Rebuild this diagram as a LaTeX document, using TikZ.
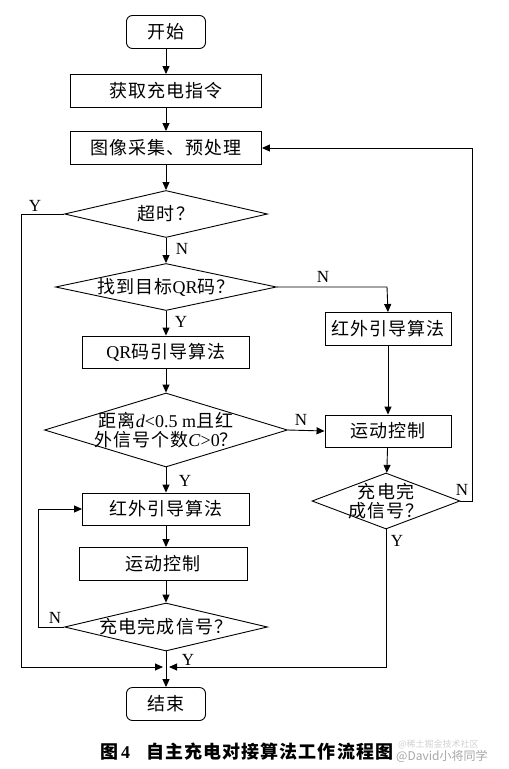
\documentclass[tikz,border=0pt]{standalone}
\usepackage{fontspec}
\setmainfont{Liberation Serif}
\newfontfamily\cjk[LetterSpace=6]{Noto Sans CJK SC}
\newfontfamily\cjkwm{Noto Sans CJK SC}
\usetikzlibrary{shapes.geometric,arrows.meta}
\tikzset{
  base/.style={draw, line width=0.9pt, inner sep=0pt, font=\fontsize{18}{19}\selectfont},
  proc/.style={base, rectangle},
  term/.style={base, rectangle, rounded corners=6pt},
  dec/.style={base, diamond},
  lbl/.style={inner sep=0pt, align=center, font=\fontsize{18}{19}\selectfont},
  yn/.style={inner sep=0pt, font=\fontsize{17}{18}\selectfont},
  conn/.style={line width=0.9pt, -{Triangle[length=8pt,width=7pt]}},
  seg/.style={line width=0.9pt},
}
\begin{document}
\begin{tikzpicture}[x=1pt,y=-1pt]
\useasboundingbox (0,0) rectangle (509,769);
% nodes
\node[term, minimum width=79pt, minimum height=33pt] (start) at (166,32) {\cjk 开始};
\node[proc, minimum width=191pt, minimum height=33pt] (get) at (166,91) {\cjk 获取充电指令};
\node[proc, minimum width=191pt, minimum height=33pt] (img) at (166,148) {\cjk 图像采集、预处理};
\node[dec, minimum width=203pt, minimum height=47pt, label={[lbl]center:{\cjk 超时？}}] (tmo) at (166,214) {};
\node[dec, minimum width=221pt, minimum height=47pt, label={[lbl]center:{{\cjk 找到目标}QR{\cjk 码？}}}] (qr) at (166,287) {};
\node[proc, minimum width=167pt, minimum height=32pt] (qrg) at (166,352) {QR{\cjk 码引导算法}};
\node[proc, minimum width=126pt, minimum height=33pt] (irR) at (388,329) {\cjk 红外引导算法};
\node[dec, minimum width=243pt, minimum height=74pt, label={[lbl]center:{{\cjk 距离}\textit{d}<0.5 m{\cjk 且红}\\{\cjk 外信号个数}\textit{C}>0{\cjk ？}}}] (dist) at (166,430) {};
\node[proc, minimum width=126pt, minimum height=32pt] (mcR) at (388,431) {\cjk 运动控制};
\node[dec, minimum width=148pt, minimum height=56pt, label={[lbl]center:{\cjk 充电完\\\cjk 成信号？}}] (doneR) at (386,501) {};
\node[proc, minimum width=167pt, minimum height=32pt] (irL) at (166,509) {\cjk 红外引导算法};
\node[proc, minimum width=168pt, minimum height=33pt] (mcL) at (163,564) {\cjk 运动控制};
\node[dec, minimum width=203pt, minimum height=48pt, label={[lbl]center:{\cjk 充电完成信号？}}] (doneL) at (166,627) {};
\node[term, minimum width=79pt, minimum height=33pt] (end) at (166,704) {\cjk 结束};
\coordinate (jn) at (166,667);
\coordinate (lr1) at (21,214);
\coordinate (lr2) at (21,667);
\coordinate (rr1) at (472,501);
\coordinate (rr2) at (472,148);
\coordinate (qn) at (387,287);
\coordinate (lp1) at (38,627);
\coordinate (lp2) at (38,509);
\coordinate (dy) at (386,667);
% connectors
\draw[conn] (start) -- (get);
\draw[conn] (get) -- (img);
\draw[conn] (img) -- (tmo);
\draw[conn] (tmo) -- (qr);
\draw[conn] (qr) -- (qrg);
\draw[conn] (qrg) -- (dist);
\draw[conn] (dist) -- (irL);
\draw[conn] (irL) -- (mcL.north -| irL);
\draw[conn] (mcL.south -| doneL) -- (doneL);
\draw[conn] (doneL) -- (end);
\draw[conn] (tmo.west) -- (lr1) -- (lr2) -- ([xshift=-3pt]jn);
\draw[conn] (qr.east) -- (qn) -- (irR.north);
\draw[conn] (irR) -- (mcR);
\draw[conn] (dist.east) -- (mcR.west);
\draw[conn] (mcR) -- (doneR);
\draw[conn] (doneR.east) -- (rr1) -- (rr2) -- (img.east);
\draw[conn] (doneR.south) -- (dy) -- ([xshift=3pt]jn);
\draw[conn] (doneL.west) -- (lp1) -- (lp2) -- (irL.west);
% Y/N labels
\node[yn] (l1) at (35,206) {Y};
\node[yn] (l2) at (182,249) {N};
\node[yn] (l3) at (323,277) {N};
\node[yn] (l4) at (181,322) {Y};
\node[yn] (l5) at (301,420) {N};
\node[yn] (l6) at (185,481) {Y};
\node[yn] (l7) at (462,490) {N};
\node[yn] (l8) at (397,541) {Y};
\node[yn] (l9) at (55,618) {N};
\node[yn] (l10) at (188,660) {Y};
% caption
\node[inner sep=0pt, anchor=west, font=\fontsize{18}{19}\selectfont\bfseries] (cap) at (100,752) {{\cjk 图}\,4\hspace{16pt}{\cjk 自主充电对接算法工作流程图}};
\node[inner sep=0pt, anchor=west, text=black!18, font=\fontsize{9}{10}\selectfont] (wm1) at (398,744) {\cjkwm @稀土掘金技术社区};
\node[inner sep=0pt, anchor=west, text=black!35, font=\fontsize{12}{13}\selectfont] (wm2) at (396,756) {\cjkwm @David小将同学};
\end{tikzpicture}
\end{document}
